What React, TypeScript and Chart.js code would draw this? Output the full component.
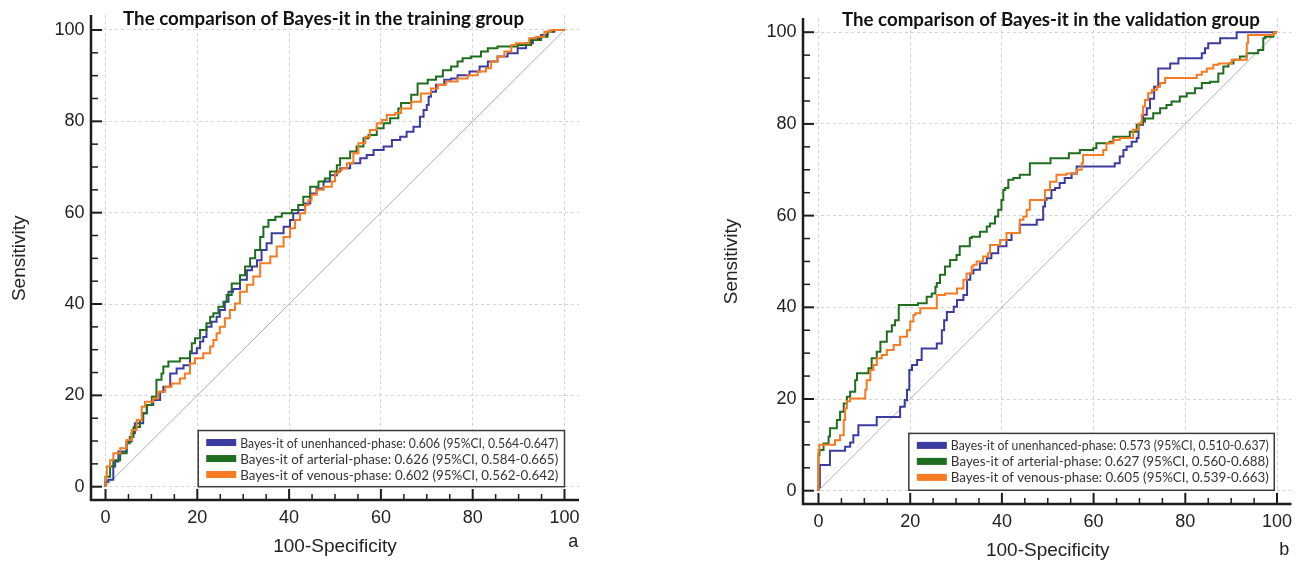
import React, { useEffect, useRef } from 'react';
import { Chart, registerables } from 'chart.js';

Chart.register(...registerables);

type Pt = [number, number];

const majorTicks = [0, 20, 40, 60, 80, 100];
const minorTicks = [5, 10, 15, 25, 30, 35, 45, 50, 55, 65, 70, 75, 85, 90, 95];

const seriesNames = ['unenhanced-phase', 'arterial-phase', 'venous-phase'];
const seriesColors = ['#3c3ca0', '#1f6e1f', '#f77b22'];

const trainTitle = 'The comparison of Bayes-it in the training group';
const validTitle = 'The comparison of Bayes-it in the validation group';

const trainLegend = [
  'Bayes-it of unenhanced-phase: 0.606 (95%CI, 0.564-0.647)',
  'Bayes-it of arterial-phase: 0.626 (95%CI, 0.584-0.665)',
  'Bayes-it of venous-phase: 0.602 (95%CI, 0.562-0.642)',
];
const validLegend = [
  'Bayes-it of unenhanced-phase: 0.573 (95%CI, 0.510-0.637)',
  'Bayes-it of arterial-phase: 0.627 (95%CI, 0.560-0.688)',
  'Bayes-it of venous-phase: 0.605 (95%CI, 0.539-0.663)',
];

const diagonal: Pt[] = [[0, 0], [100, 100]];

// Training group (100-Specificity, Sensitivity)
const trainBlue: Pt[] = [
  [0, 0], [0.6, 1.1], [1.7, 1.5], [2.1, 4.4], [2.8, 5.5], [4.6, 7.7], [5.7, 9.9], [6.4, 11.7], [8.2, 13.9], [9, 16.1],
  [10.4, 17.9], [11.9, 19], [12.6, 20.8], [14.1, 21.9], [15.5, 24.8], [17, 25.9], [18.4, 26.6], [19.9, 29.2], [20.6, 30.3],
  [21.3, 31.8], [22, 32.8], [23.1, 35], [24.2, 36.1], [24.9, 37.2], [26, 38.7], [26.8, 40.5], [27.8, 42.7], [29.3, 43.3],
  [30.8, 45.3], [31.9, 47.4], [33, 48.2], [34, 49.6], [35.1, 51.8], [36.2, 53.3], [38.8, 55.5], [40.2, 56.9], [40.9, 58.4],
  [42, 59.9], [43.5, 60.6], [44.6, 62], [46, 64.2], [47.5, 65.3], [48.9, 66.8], [50.4, 68.2], [51.1, 69], [53.3, 69.7],
  [55.5, 70.8], [56.9, 71.9], [58.4, 72.6], [60.6, 73.7], [62.4, 74.5], [64.2, 75.9], [65.6, 76.6], [67.1, 77.7],
  [68.5, 78.8], [69.3, 81], [70, 82.5], [70.4, 83.6], [70.9, 85.4], [72, 86.5], [73.8, 88], [75.3, 89.1], [76.7, 89.4],
  [79.3, 90.1], [81.5, 90.9], [83.3, 92], [85.4, 93.1], [87.6, 94.2], [89.8, 94.9], [91.6, 96], [93.1, 97.1], [94.9, 98.2],
  [96.3, 98.9], [97.8, 99.6], [100, 100],
];
const trainGreen: Pt[] = [
  [0, 0], [1, 2.2], [1.7, 4.4], [3.2, 5.8], [4.6, 7.3], [5.3, 9.5], [6.1, 10.9], [6.2, 12.8], [7.5, 13.1], [8.2, 14.6],
  [9, 16.1], [10.1, 17.9], [11.1, 19.7], [12.2, 23.4], [12.6, 24.8], [13.7, 26.3], [16.2, 27.4], [18.4, 28.1], [18.8, 29.6],
  [19.5, 31.4], [20.6, 32.5], [22, 34.3], [22.8, 35.8], [23.5, 37.2], [24.6, 38], [25.7, 39.4], [26.4, 40.5], [27.5, 42],
  [29.3, 44.5], [30.4, 46.3], [31.5, 48.2], [32.6, 50], [33.7, 51.8], [34.4, 54.7], [35.5, 56.9], [37, 58.4], [38.4, 59.1],
  [40.6, 59.9], [42, 60.6], [43.1, 61.7], [44.6, 63.5], [46.4, 65.7], [47.8, 66.8], [48.9, 67.5], [50.4, 69], [51.1, 70.4],
  [53.3, 71.9], [54.7, 73.4], [56.2, 74.5], [57.3, 76.3], [59.1, 77], [60.6, 78.5], [62, 79.6], [63.8, 80.7], [64.4, 82.8],
  [66.6, 84], [68, 85.8], [70.2, 88.3], [72, 89.1], [73.5, 89.8], [75.3, 91.2], [76.7, 92], [77.8, 93.1], [79.6, 93.8],
  [81.8, 94.2], [83.3, 95.3], [85.4, 96], [89.8, 96.4], [92.7, 96.7], [94.9, 97.8], [96.3, 98.5], [97.4, 99.6], [100, 100],
];
const trainOrange: Pt[] = [
  [0, 0], [0.3, 2.2], [1, 4.4], [1.7, 5.8], [3.2, 7.3], [4.6, 8.4], [5.7, 10.2], [6.8, 12.4], [7.9, 14.6], [8.6, 17.5],
  [10.4, 18.6], [11.5, 19.3], [13, 20.8], [14.4, 21.9], [16.2, 22.6], [17.3, 23.7], [18.4, 24.8], [19.5, 27], [21.3, 28.1],
  [22.8, 29.2], [23.5, 30.7], [24.2, 32.1], [24.9, 33.6], [26, 35], [27.1, 36.9], [28.2, 38.7], [29.3, 40.1], [30.8, 42.7],
  [32.2, 44.2], [33.7, 46], [35.9, 48.9], [37.3, 50.4], [38.8, 52.6], [40.2, 54.7], [41.3, 56.6], [42.4, 58.4], [43.5, 59.9],
  [44.2, 61.7], [44.9, 62.8], [46, 63.9], [47.5, 65], [49.3, 65.7], [50, 66.8], [50.7, 68.6], [51.5, 69.3], [52.6, 69.7],
  [54, 70.8], [55.1, 73], [56.6, 75.2], [57.6, 76.6], [59.1, 78.1], [60.2, 79.6], [61.3, 80.3], [63.1, 81.4], [64.4, 81.8],
  [66.6, 82.8], [68.7, 84.3], [70.9, 86.1], [72.4, 87.2], [74.2, 88], [76.7, 88.7], [78.9, 89.4], [81.1, 90.1], [82.9, 90.9],
  [84, 91.6], [85.4, 93.1], [86.9, 94.2], [88.4, 95.3], [89.4, 96.7], [92.3, 97.1], [93.8, 98.2], [95.6, 98.5], [97.1, 99.6],
  [100, 100],
];

// Validation group (100-Specificity, Sensitivity)
const validBlue: Pt[] = [
  [0, 0], [0.3, 0.8], [2.5, 5.6], [5.8, 8.7], [6.9, 9.6], [7.6, 10.5], [8.7, 12.1], [12.7, 14.3], [17.8, 16.1], [18.8, 18.3],
  [19.3, 19.8], [19.8, 22], [20.4, 26.3], [21.5, 27.4], [22.5, 28.5], [25.8, 31], [26.9, 32.1], [27.4, 35], [28, 37.2],
  [29.5, 39], [30.2, 40.1], [31.6, 41.6], [32.4, 42.7], [33.1, 46], [33.8, 47.4], [35.2, 48.2], [36.7, 49.6], [37.7, 50.7],
  [39.2, 51.8], [41, 53.3], [42.1, 54.7], [43.9, 56.2], [47.6, 58], [49, 59.1], [49.4, 62], [49.7, 63.4], [50.8, 63.8],
  [51.6, 65.6], [52.6, 66], [53.7, 67.1], [55.2, 68.2], [56.3, 69.2], [64.6, 70.7], [65.7, 71.4], [66.5, 72.9], [67.2, 74.3],
  [68.3, 75.1], [69.4, 76.1], [69.8, 76.9], [70.8, 79.8], [71.6, 82], [72.3, 83.4], [73.2, 85.5], [74.1, 88.1], [76.7, 92.1],
  [78.5, 93.2], [83.6, 94.3], [84.3, 95.4], [85, 96.5], [87.6, 97.6], [91.2, 98.7], [96.6, 100], [100, 100],
];
const validGreen: Pt[] = [
  [0, 0], [0.2, 7.8], [1.1, 8.9], [2.2, 10.3], [2.5, 11.8], [4, 13.6], [4.7, 15.4], [5.5, 17.2], [6.2, 19], [6.9, 20.5],
  [8, 21.6], [8.4, 24.1], [10.9, 25.6], [11.6, 26.7], [12.7, 28.9], [13.5, 30.3], [14.9, 32.5], [16, 34.7], [16.7, 36.1],
  [17.5, 37.2], [21.7, 40.5], [23.6, 40.9], [24.7, 42.3], [25.5, 43], [25.8, 44.5], [26.5, 45.3], [27.6, 47.1], [28.7, 48.9],
  [30.1, 50.3], [30.8, 51.4], [33, 53.3], [33.4, 55.1], [35.2, 55.4], [36.7, 56.5], [37.4, 57.6], [38.5, 58.3], [39.2, 59.8],
  [39.9, 61.3], [40.3, 63.4], [40.7, 65.6], [41.4, 66], [42.5, 67.8], [43.9, 68.2], [46.1, 68.9], [50.6, 71.4], [54.6, 72.5],
  [57, 73.6], [59.9, 74.3], [60.6, 74.7], [63.5, 75.8], [64.3, 76.1], [67.9, 77.2], [69.4, 78.3], [70.5, 79.8], [71.2, 80.5],
  [73, 81.2], [74.5, 82.3], [75.9, 83.4], [77, 84.1], [78.8, 84.9], [80.3, 86], [82.1, 86.7], [83.6, 87.8], [85.4, 88.9],
  [87.2, 89.2], [88.3, 91], [89.4, 92.5], [90.5, 93.2], [91.9, 94], [93.4, 94.7], [95.9, 95.4], [97, 96.1], [97.4, 98.7],
  [99.2, 99], [99.6, 100], [100, 100],
];
const validOrange: Pt[] = [
  [0, 0], [0.2, 8.9], [3.6, 10], [4.7, 11], [5.5, 12.1], [5.8, 15.4], [6.2, 18], [6.9, 19.5], [10.2, 20.1], [10.5, 22],
  [11.3, 24.1], [12, 26.3], [12.7, 27.4], [13.8, 28.9], [14.9, 29.6], [16.4, 30.7], [17.8, 31.8], [19.3, 33.6], [20, 35],
  [20.7, 36.9], [21.1, 38.3], [22.2, 38.7], [25.8, 39.8], [27.6, 42.7], [30.2, 43], [31.6, 44.1], [32.3, 46], [33.4, 47.4],
  [33.8, 48.9], [34.5, 49.3], [35.9, 50], [37, 51.1], [37.4, 51.8], [39.6, 53.6], [41, 54.7], [43.9, 56.2], [44.7, 59.1],
  [45.4, 59.8], [46.1, 61.3], [49.4, 63.4], [50.5, 65.6], [51.9, 67.4], [54.1, 68.9], [56.3, 69.2], [57.4, 70], [57.7, 71.4],
  [62.1, 73.2], [62.8, 74.3], [64.3, 75.8], [65.7, 76.5], [68.6, 76.9], [69.8, 78.7], [70.5, 80.1], [70.8, 82], [71.2, 83.8],
  [71.9, 85.2], [72.7, 86.7], [73.8, 87.4], [74.5, 88.1], [75.6, 88.9], [82.5, 90], [83.6, 90.7], [84.7, 91.4], [86.1, 92.1],
  [87.2, 92.9], [90.1, 93.2], [93.4, 94], [93.7, 97.6], [99.3, 99.4], [100, 100],
];

type Panel = {
  title: string;
  titleX: number;
  titleY: number;
  titleWidth: number;
  legend: string[];
  legendBox: [number, number, number, number]; // x0, x1, y0, y1 in data units
  letter: string;
  letterX: number;
  letterOffset: number;
  series: Pt[][];
  xRange: [number, number];
  yRange: [number, number];
  padding: { left: number; right: number; top: number; bottom: number };
  width: number;
  left: number;
};

const panels: Panel[] = [
  {
    title: trainTitle, titleX: 47.5, titleY: 102.4, titleWidth: 401,
    legend: trainLegend, legendBox: [20.2, 100, 0, 12.3],
    letter: 'a', letterX: 101.9, letterOffset: 42,
    series: [trainBlue, trainGreen, trainOrange],
    xRange: [-3.16, 103.16], yRange: [-2.91, 103.28],
    padding: { left: 91, right: 72, top: 15, bottom: 64 },
    width: 651, left: 0,
  },
  {
    title: validTitle, titleX: 50.7, titleY: 102.7, titleWidth: 418,
    legend: validLegend, legendBox: [19.7, 99.4, 0.1, 12.5],
    letter: 'b', letterX: 101.6, letterOffset: 46,
    series: [validBlue, validGreen, validOrange],
    xRange: [-3.38, 103.16], yRange: [-2.9, 103.1],
    padding: { left: 152, right: 11.5, top: 18, bottom: 60 },
    width: 652, left: 651,
  },
];

const TICK_FONT = '18px "Liberation Sans", Arial, sans-serif';
const AXIS_FONT = '19px "Liberation Sans", Arial, sans-serif';

function makeDecor(p: Panel) {
  return {
    id: 'decor',
    afterDraw(chart: any) {
      const { ctx, chartArea: a } = chart;
      const xs = chart.scales.x;
      const ys = chart.scales.y;
      ctx.save();
      const seg = (x1: number, y1: number, x2: number, y2: number) => {
        ctx.beginPath();
        ctx.moveTo(x1, y1);
        ctx.lineTo(x2, y2);
        ctx.stroke();
      };
      // axes
      ctx.strokeStyle = '#1c1c1c';
      ctx.lineWidth = 2.5;
      ctx.beginPath();
      ctx.moveTo(a.left, a.top);
      ctx.lineTo(a.left, a.bottom);
      ctx.lineTo(a.right, a.bottom);
      ctx.stroke();
      ctx.lineWidth = 2;
      for (const v of majorTicks) {
        const px = xs.getPixelForValue(v);
        seg(px, a.bottom, px, a.bottom - 11);
        const py = ys.getPixelForValue(v);
        seg(a.left, py, a.left + 11, py);
      }
      ctx.lineWidth = 1.5;
      for (const v of minorTicks) {
        const px = xs.getPixelForValue(v);
        seg(px, a.bottom, px, a.bottom - 6);
        const py = ys.getPixelForValue(v);
        seg(a.left, py, a.left + 7, py);
      }
      // tick labels
      ctx.fillStyle = '#222';
      ctx.font = TICK_FONT;
      ctx.textBaseline = 'middle';
      ctx.textAlign = 'center';
      for (const v of majorTicks) {
        ctx.fillText(String(v), xs.getPixelForValue(v), a.bottom + 18.5);
      }
      ctx.textAlign = 'right';
      for (const v of majorTicks) {
        ctx.fillText(String(v), a.left - 6.5, ys.getPixelForValue(v));
      }
      // axis titles
      ctx.font = AXIS_FONT;
      ctx.textAlign = 'center';
      ctx.fillText('100-Specificity', xs.getPixelForValue(50), a.bottom + 47);
      ctx.save();
      ctx.translate(a.left - 71, ys.getPixelForValue(50));
      ctx.rotate(-Math.PI / 2);
      ctx.fillText('Sensitivity', 0, 0);
      ctx.restore();
      // panel letter
      ctx.font = '18px "Liberation Sans", Arial, sans-serif';
      ctx.fillText(p.letter, xs.getPixelForValue(p.letterX), a.bottom + p.letterOffset);
      // title
      ctx.font = 'bold 19px Lato, "Open Sans", sans-serif';
      ctx.fillStyle = '#111';
      ctx.fillText(p.title, xs.getPixelForValue(p.titleX), ys.getPixelForValue(p.titleY), p.titleWidth);
      // legend
      const [bx0, bx1, by0, by1] = p.legendBox;
      const L = xs.getPixelForValue(bx0);
      const R = xs.getPixelForValue(bx1);
      const T = ys.getPixelForValue(by1);
      const B = ys.getPixelForValue(by0);
      ctx.fillStyle = '#fff';
      ctx.fillRect(L, T, R - L, B - T);
      ctx.strokeStyle = '#3a3a3a';
      ctx.lineWidth = 1.5;
      ctx.strokeRect(L, T, R - L, B - T);
      ctx.font = '14px Lato, "Open Sans", sans-serif';
      ctx.textAlign = 'left';
      ctx.textBaseline = 'middle';
      p.legend.forEach((txt, i) => {
        const cy = T + 12 + i * 16;
        ctx.fillStyle = seriesColors[i];
        ctx.fillRect(L + 8, cy - 3.5, 30, 7);
        ctx.fillStyle = '#333';
        ctx.fillText(txt, L + 42, cy + 0.5, 318);
      });
      ctx.restore();
    },
  };
}

function RocPanel({ p }: { p: Panel }) {
  const ref = useRef<HTMLCanvasElement | null>(null);
  useEffect(() => {
    if (!ref.current) return;
    const toXY = (arr: Pt[]) => arr.map(([x, y]) => ({ x, y }));
    const drawOrder = [3, 2, 1];
    const datasets: any[] = p.series.map((s, i) => ({
      label: seriesNames[i],
      data: toXY(s),
      borderColor: seriesColors[i],
      borderWidth: 2,
      pointRadius: 0,
      fill: false,
      stepped: 'after',
      order: drawOrder[i],
    }));
    datasets.push({
      label: 'reference',
      data: toXY(diagonal),
      borderColor: '#acacac',
      borderWidth: 1,
      pointRadius: 0,
      fill: false,
      order: 10,
    });
    const axis = (range: [number, number]) => ({
      type: 'linear',
      min: range[0],
      max: range[1],
      afterBuildTicks: (scale: any) => {
        scale.ticks = majorTicks.map((v) => ({ value: v }));
      },
      ticks: { display: false },
      grid: { color: '#d2d2d2', lineWidth: 1, drawTicks: false },
      border: { display: false, dash: [3, 3] },
      title: { display: false },
    });
    const chart = new Chart(ref.current, {
      type: 'line',
      data: { datasets },
      options: {
        animation: false,
        responsive: false,
        maintainAspectRatio: false,
        devicePixelRatio: 1,
        layout: { padding: p.padding },
        plugins: { legend: { display: false }, tooltip: { enabled: false }, title: { display: false } },
        scales: { x: axis(p.xRange) as any, y: axis(p.yRange) as any },
      },
      plugins: [makeDecor(p)],
    });
    return () => chart.destroy();
  }, [p]);
  return (
    <canvas
      ref={ref}
      width={p.width}
      height={564}
      style={{ position: 'absolute', left: p.left, top: 0, width: p.width, height: 564 }}
    />
  );
}

export default function App() {
  return (
    <div style={{ position: 'absolute', left: 0, top: 0, width: 1303, height: 564, background: '#fff', overflow: 'hidden' }}>
      {panels.map((p, i) => (
        <RocPanel key={i} p={p} />
      ))}
    </div>
  );
}
